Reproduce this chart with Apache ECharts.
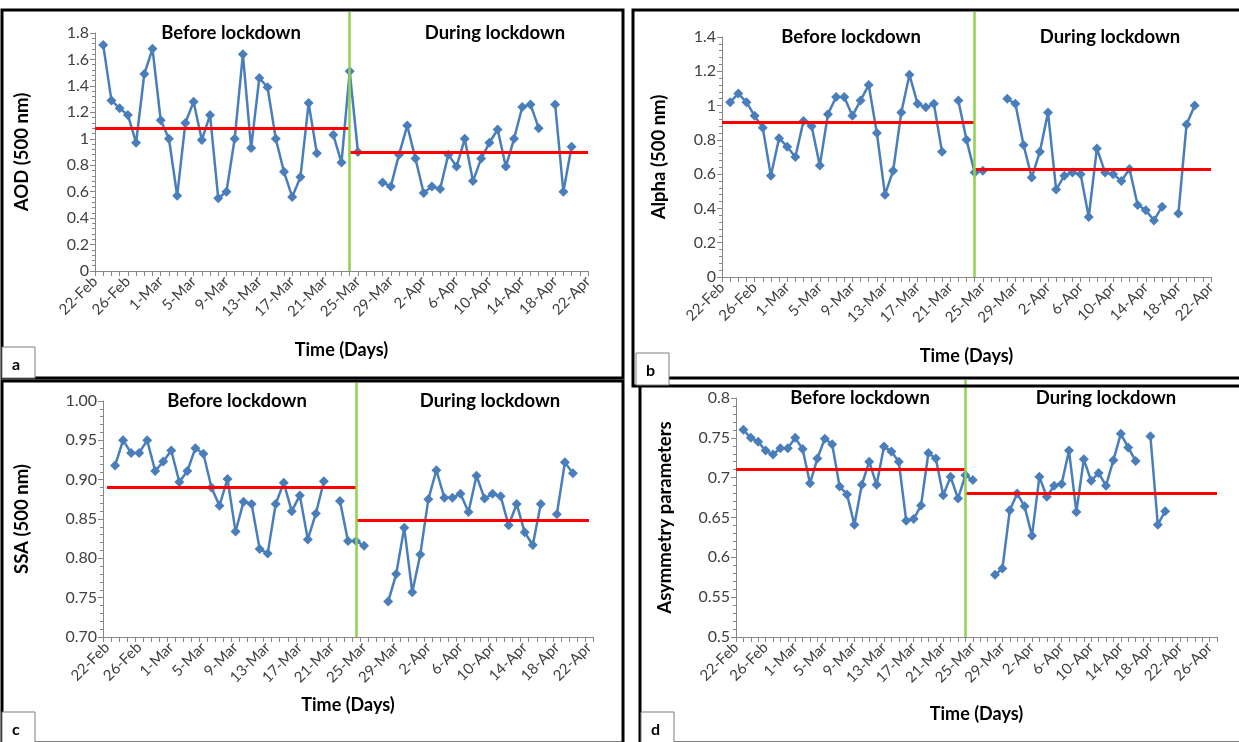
<!DOCTYPE html>
<html><head><meta charset="utf-8">
<script src="https://cdn.jsdelivr.net/npm/echarts@6/dist/echarts.min.js"></script>
<style>html,body{margin:0;padding:0;background:#fff}#c{width:1239px;height:742px}</style>
</head><body><div id="c"></div>
<script>
// ---------- categories ----------
const datesMain = ['22-Feb','23-Feb','24-Feb','25-Feb','26-Feb','27-Feb','28-Feb','29-Feb',
 '1-Mar','2-Mar','3-Mar','4-Mar','5-Mar','6-Mar','7-Mar','8-Mar','9-Mar','10-Mar','11-Mar','12-Mar',
 '13-Mar','14-Mar','15-Mar','16-Mar','17-Mar','18-Mar','19-Mar','20-Mar','21-Mar','22-Mar','23-Mar',
 '24-Mar','25-Mar','26-Mar','27-Mar','28-Mar','29-Mar','30-Mar','31-Mar',
 '1-Apr','2-Apr','3-Apr','4-Apr','5-Apr','6-Apr','7-Apr','8-Apr','9-Apr','10-Apr','11-Apr','12-Apr',
 '13-Apr','14-Apr','15-Apr','16-Apr','17-Apr','18-Apr','19-Apr','20-Apr','21-Apr','22-Apr'];
const datesExtra = ['23-Apr','24-Apr','25-Apr','26-Apr','27-Apr'];
const datesD = datesMain.concat(datesExtra);
const lockdownDay = '24-Mar';

// ---------- series values ----------
const aod = [null,1.71,1.29,1.23,1.18,0.97,1.49,1.68,1.14,1.00,0.57,1.12,1.28,0.99,1.18,0.55,0.60,1.00,1.64,0.93,
 1.46,1.39,1.00,0.75,0.56,0.71,1.27,0.89,null,1.03,0.82,1.51,0.90,null,null,0.67,0.64,0.88,1.10,0.85,
 0.59,0.64,0.62,0.88,0.79,1.00,0.68,0.85,0.97,1.07,0.79,1.00,1.24,1.26,1.08,null,1.26,0.60,0.94,null,null];
const alpha = [null,1.02,1.07,1.02,0.94,0.87,0.59,0.81,0.76,0.70,0.91,0.88,0.65,0.95,1.05,1.05,0.94,1.03,1.12,0.84,
 0.48,0.62,0.96,1.18,1.01,0.99,1.01,0.73,null,1.03,0.80,0.61,0.62,null,null,1.04,1.01,0.77,0.58,0.73,
 0.96,0.51,0.59,0.61,0.60,0.35,0.75,0.61,0.60,0.56,0.63,0.42,0.39,0.33,0.41,null,0.37,0.89,1.00,null,null];
const ssa = [null,0.918,0.950,0.934,0.934,0.950,0.911,0.923,0.937,0.897,0.911,0.940,0.933,0.890,0.867,0.901,0.834,0.872,0.869,0.812,
 0.806,0.869,0.896,0.860,0.880,0.824,0.857,0.898,null,0.873,0.822,0.822,0.816,null,null,0.745,0.780,0.839,0.757,0.805,
 0.875,0.912,0.877,0.877,0.882,0.859,0.905,0.876,0.882,0.879,0.842,0.869,0.833,0.817,0.869,null,0.856,0.922,0.908,null,null];
const asym = [null,0.760,0.750,0.745,0.734,0.729,0.737,0.737,0.750,0.736,0.693,0.724,0.749,0.742,0.689,0.679,0.641,0.691,0.720,0.691,
 0.739,0.733,0.720,0.646,0.648,0.665,0.731,0.724,0.678,0.701,0.674,0.703,0.697,null,null,0.578,0.586,0.659,0.680,0.664,
 0.627,0.701,0.676,0.690,0.692,0.734,0.657,0.723,0.696,0.706,0.690,0.722,0.755,0.738,0.721,null,0.752,0.641,0.658,null,null,
 null,null,null,null,null];

// mean lines [before, during]
const aodMeans = [1.08, 0.90];
const alphaMeans = [0.90, 0.63];
const ssaMeans = [0.890, 0.848];
const asymMeans = [0.711, 0.680];

// y-axis scales [min, max, interval]
const aodScale = [0, 1.8, 0.2];
const alphaScale = [0, 1.4, 0.2];
const ssaScale = [0.70, 1.00, 0.05];
const asymScale = [0.5, 0.8, 0.05];

const yNames = ['AOD (500 nm)', 'Alpha (500 nm)', 'SSA (500 nm)', 'Asymmetry parameters'];
const xName = 'Time (Days)';
const titleBefore = 'Before lockdown';
const titleDuring = 'During lockdown';
const letters = ['a', 'b', 'c', 'd'];

// ---------- layout ----------
const F = 'Lato, "Open Sans", sans-serif';
const panels = [
  {vals: aod, cats: datesMain, gap: false, means: aodMeans, sc: aodScale, grid: {left: 95, top: 33, width: 493, height: 238},
   yGap: 63, xGap: 70, greenTopPx: 12, fmt: null,
   box: [2, 10, 621, 368], letterBox: [2, 347, 33, 31], t1: [231, 33], t2: [495, 33]},
  {vals: alpha, cats: datesMain, gap: false, means: alphaMeans, sc: alphaScale, grid: {left: 722, top: 37, width: 489, height: 240},
   yGap: 53, xGap: 70, greenTopPx: 12, fmt: null,
   box: [633, 10, 610, 376], letterBox: [636, 353, 33, 32], t1: [851, 37], t2: [1110, 37]},
  {vals: ssa, cats: datesMain, gap: true, means: ssaMeans, sc: ssaScale, grid: {left: 103, top: 401, width: 490, height: 236},
   yGap: 71, xGap: 59, greenTopPx: 383, fmt: v => v.toFixed(2),
   box: [2, 381, 621, 362], letterBox: [2, 712, 33, 31], t1: [237, 401], t2: [490, 401]},
  {vals: asym, cats: datesD, gap: false, means: asymMeans, sc: asymScale, grid: {left: 736, top: 398, width: 481, height: 239},
   yGap: 61, xGap: 68, greenTopPx: 380, fmt: null,
   box: [640, 378, 602, 365], letterBox: [641, 712, 33, 31], t1: [860, 398], t2: [1106, 398]}
];

const grids = [], xAxes = [], yAxes = [], series = [], graphics = [];
const n = panels.length;
panels.forEach((p, i) => {
  grids.push(Object.assign({}, p.grid));
  xAxes.push({
    type: 'category', gridIndex: i, data: p.cats, boundaryGap: p.gap,
    axisLine: {lineStyle: {color: '#868686', width: 1}},
    axisTick: {show: true, interval: 0, length: 5, lineStyle: {color: '#868686'}},
    axisLabel: {interval: 3, rotate: 45, color: '#404040', fontSize: 15, fontFamily: F, margin: 8},
    splitLine: {show: false},
    name: xName, nameLocation: 'middle', nameGap: p.xGap,
    nameTextStyle: {fontWeight: 'bold', fontSize: 18, color: '#000', fontFamily: F}
  });
  yAxes.push({
    type: 'value', gridIndex: i, min: p.sc[0], max: p.sc[1], interval: p.sc[2],
    axisLine: {show: true, lineStyle: {color: '#868686', width: 1}},
    axisTick: {show: true, length: 5, lineStyle: {color: '#868686'}},
    minorTick: {show: true, splitNumber: 5, length: 3, lineStyle: {color: '#868686'}},
    splitLine: {show: false},
    axisLabel: Object.assign({color: '#404040', fontSize: 16, fontFamily: F, margin: 6},
      p.fmt ? {formatter: p.fmt} : {}),
    name: yNames[i], nameLocation: 'middle', nameGap: p.yGap,
    nameTextStyle: {fontWeight: 'bold', fontSize: 18.5, color: '#000', fontFamily: F}
  });
  const last = p.cats[p.cats.length - 1];
  series.push({
    type: 'line', xAxisIndex: i, yAxisIndex: i, data: p.vals,
    connectNulls: false, symbol: 'diamond', symbolSize: 10, showSymbol: true, showAllSymbol: true,
    lineStyle: {color: '#4A7EBB', width: 2.5}, itemStyle: {color: '#4A7EBB'},
    emphasis: {disabled: true}, animation: false, z: 3,
    markLine: {
      silent: true, symbol: ['none', 'none'], animation: false, label: {show: false},
      lineStyle: {color: '#FF0000', width: 3, type: 'solid'},
      emphasis: {disabled: true},
      data: [
        [{coord: [p.cats[0], p.means[0]]}, {coord: [lockdownDay, p.means[0]]}],
        [{coord: [lockdownDay, p.means[1]]}, {coord: [last, p.means[1]]}]
      ]
    }
  });
  // panel border + letter + titles
  graphics.push({type: 'rect', shape: {x: p.box[0], y: p.box[1], width: p.box[2], height: p.box[3]},
    style: {fill: null, stroke: '#000', lineWidth: 3}, z: 10, silent: true});
  graphics.push({type: 'rect', shape: {x: p.letterBox[0], y: p.letterBox[1], width: p.letterBox[2], height: p.letterBox[3]},
    style: {fill: '#fff', stroke: '#7f7f7f', lineWidth: 1}, z: 11, silent: true});
  graphics.push({type: 'text', x: p.letterBox[0] + 10, y: p.letterBox[1] + p.letterBox[3] / 2 + 2,
    style: {text: letters[i], font: 'bold 16px ' + F, fill: '#000', textVerticalAlign: 'middle'}, z: 12, silent: true});
  graphics.push({type: 'text', x: p.t1[0], y: p.t1[1],
    style: {text: titleBefore, font: 'bold 18.5px ' + F, fill: '#000', textAlign: 'center', textVerticalAlign: 'middle'}, z: 12, silent: true});
  graphics.push({type: 'text', x: p.t2[0], y: p.t2[1],
    style: {text: titleDuring, font: 'bold 18.5px ' + F, fill: '#000', textAlign: 'center', textVerticalAlign: 'middle'}, z: 12, silent: true});
});

// overlay grids: same category scale, taller, for the green lockdown divider
panels.forEach((p, i) => {
  const bottomPx = p.grid.top + p.grid.height;
  grids.push({left: p.grid.left, width: p.grid.width, top: p.greenTopPx, height: bottomPx - p.greenTopPx});
  xAxes.push({type: 'category', gridIndex: n + i, data: p.cats, boundaryGap: p.gap, show: false});
  yAxes.push({type: 'value', gridIndex: n + i, min: 0, max: 1, show: false, splitLine: {show: false}});
  series.push({
    type: 'line', xAxisIndex: n + i, yAxisIndex: n + i, data: [], silent: true, animation: false, z: 4,
    markLine: {
      silent: true, symbol: ['none', 'none'], animation: false, label: {show: false},
      lineStyle: {color: '#92D050', width: 2.5, type: 'solid'}, emphasis: {disabled: true},
      data: [{xAxis: lockdownDay}]
    }
  });
});

const chart = echarts.init(document.getElementById('c'));
chart.setOption({
  animation: false,
  backgroundColor: '#fff',
  grid: grids, xAxis: xAxes, yAxis: yAxes, series: series,
  graphic: {elements: graphics}
});
</script></body></html>
